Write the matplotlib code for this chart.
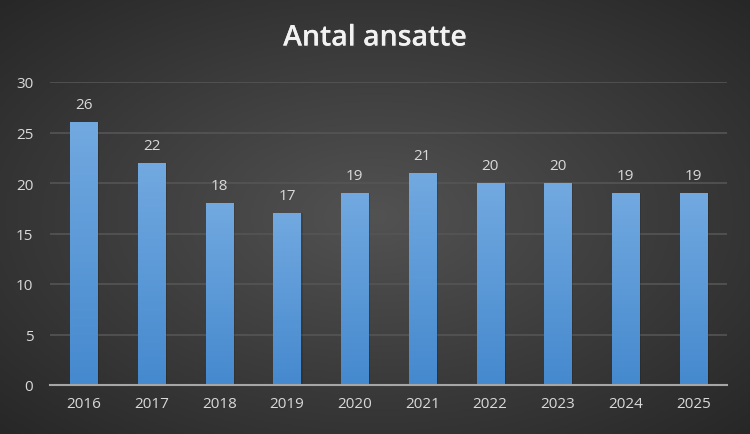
import numpy as np
import matplotlib.pyplot as plt
import matplotlib.patheffects as pe
from matplotlib.colors import LinearSegmentedColormap

# data
years = ['2016', '2017', '2018', '2019', '2020', '2021', '2022', '2023', '2024', '2025']
ansatte = [26, 22, 18, 17, 19, 21, 20, 20, 19, 19]
yticks = [0, 5, 10, 15, 20, 25, 30]

plt.rcParams['font.family'] = ['Open Sans', 'DejaVu Sans']

fig = plt.figure(figsize=(7.5, 4.35), dpi=100)

# radial background
bg = fig.add_axes([0, 0, 1, 1], zorder=-10)
yy, xx = np.mgrid[-1:1:300j, -1:1:500j]
r = np.sqrt(xx**2 + yy**2)
bg_cmap = LinearSegmentedColormap.from_list('bg', ['#525252', '#3c3c3c', '#262626'])
bg.imshow(r, cmap=bg_cmap, vmin=0, vmax=1.45, aspect='auto', extent=[0, 1, 0, 1])
bg.set_axis_off()

ax = fig.add_axes([50/750, 1 - 386/435, 677/750, (386 - 83)/435])
ax.patch.set_alpha(0)

x = np.arange(len(years))
bars = ax.bar(x, ansatte, width=0.4, color='none', zorder=3)

bar_cmap = LinearSegmentedColormap.from_list('bar', ['#4589ce', '#72a9e0'])
grad = np.linspace(0, 1, 256).reshape(-1, 1)
for b in bars:
    im = ax.imshow(grad, cmap=bar_cmap, origin='lower', aspect='auto',
                   extent=[b.get_x(), b.get_x() + b.get_width(), 0, b.get_height()], zorder=3)
    im.set_clip_path(b)
    # soft shadow
    ax.bar(b.get_x() + b.get_width()/2 + 0.03, b.get_height(), width=b.get_width(),
           color='black', alpha=0.12, zorder=2)

for xi, v in zip(x, ansatte):
    ax.text(xi, v + 1.0, str(v), ha='center', va='bottom', color='#d9d9d9', fontsize=11)

ax.set_xlim(-0.5, len(years) - 0.5)
ax.set_ylim(0, 30)
ax.set_yticks(yticks)
ax.set_xticks(x)
ax.set_xticklabels(years)
ax.tick_params(axis='both', colors='#d9d9d9', labelsize=11, length=0)
ax.tick_params(axis='x', pad=8)
ax.tick_params(axis='y', pad=12)
ax.grid(axis='y', color='#555555', linewidth=1.2, zorder=0)
ax.set_axisbelow(True)
for s in ['top', 'right', 'left']:
    ax.spines[s].set_visible(False)
ax.spines['bottom'].set_color('#a6a6a6')
ax.spines['bottom'].set_linewidth(1.5)
ax.spines['bottom'].set_zorder(4)

fig.text(0.5, 1 - 39/435, 'Antal ansatte', ha='center', va='center', color='#f2f2f2',
         fontsize=20.5, fontweight='semibold',
         path_effects=[pe.withSimplePatchShadow(offset=(1.2, -1.2), alpha=0.4), pe.Normal()])

fig.savefig('out.png', dpi=100)
